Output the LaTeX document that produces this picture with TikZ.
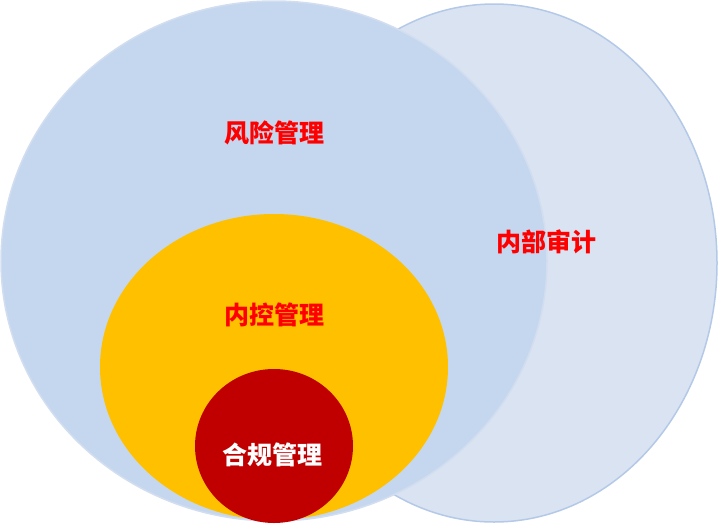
\documentclass[tikz,border=0pt]{standalone}
\usepackage{fontspec}
\usetikzlibrary{shapes.geometric}
\newfontfamily\cjk{Noto Sans CJK SC}
\definecolor{auditfill}{HTML}{DAE3F2}
\definecolor{auditline}{HTML}{B4C9E8}
\definecolor{riskfill}{HTML}{C5D7EE}
\definecolor{riskline}{HTML}{D2DEF0}
\definecolor{icfill}{HTML}{FFC000}
\definecolor{compfill}{HTML}{C00000}
\tikzset{lbl/.style={font=\cjk\bfseries\fontsize{25}{25}\selectfont}}
\begin{document}
\begin{tikzpicture}[x=1pt,y=-1pt]
\useasboundingbox (0,0) rectangle (720,525);
\node[draw=auditline,line width=1.5pt,fill=auditfill,ellipse,minimum width=446,minimum height=518,inner sep=0] (audit) at (494,263) {};
\node[draw=riskline,line width=1.5pt,fill=riskfill,ellipse,minimum width=546,minimum height=520,inner sep=0] (risk) at (274,261) {};
\node[fill=icfill,ellipse,minimum width=348,minimum height=306,inner sep=0] (ic) at (274,367) {};
\node[fill=compfill,ellipse,minimum width=158,minimum height=154,inner sep=0] (comp) at (274,446) {};
\node[lbl,text=red] (t1) at (274,133) {风险管理};
\node[lbl,text=red] (t2) at (546,242) {内部审计};
\node[lbl,text=red] (t3) at (274,315) {内控管理};
\node[lbl,text=white] (t4) at (272,455) {合规管理};
\end{tikzpicture}
\end{document}
